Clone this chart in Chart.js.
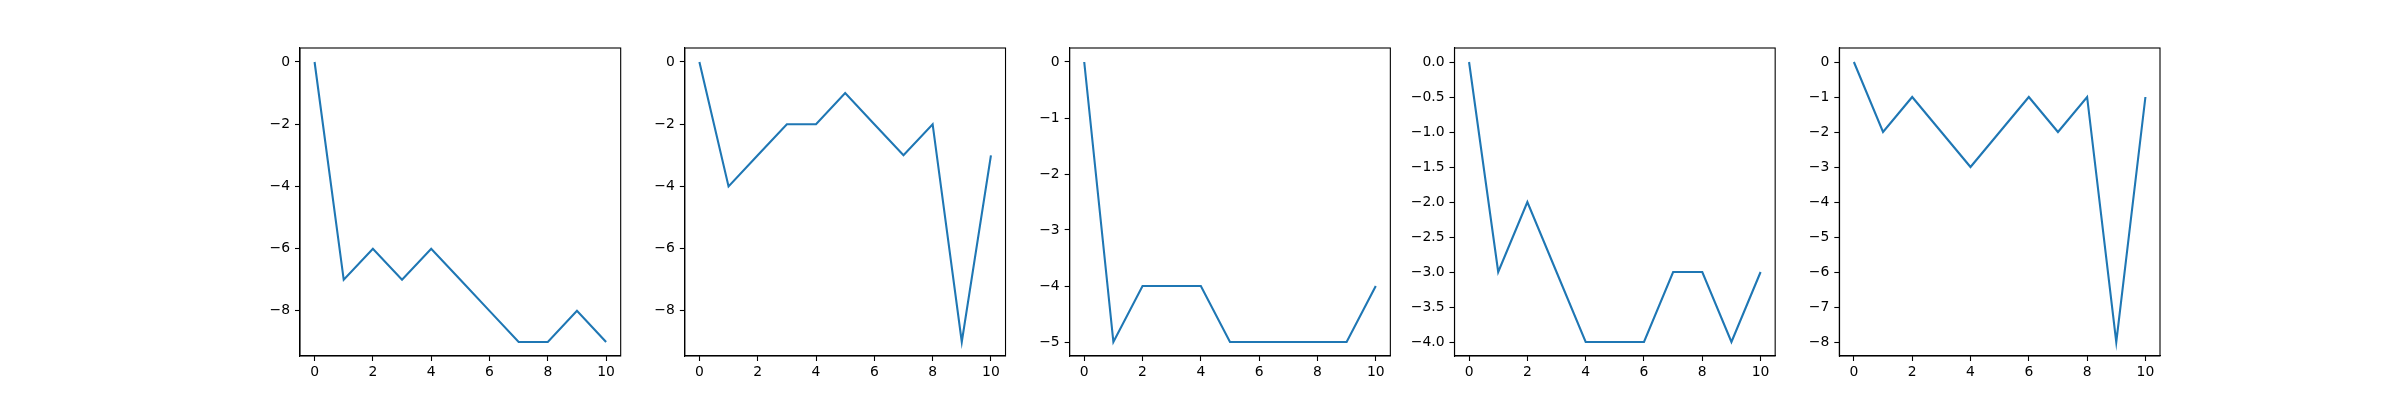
<!DOCTYPE html>
<html>
<head>
<meta charset="utf-8">
<script src="https://cdn.jsdelivr.net/npm/chart.js@4/dist/chart.umd.min.js"></script>
<style>
html,body{margin:0;padding:0;background:#fff;}
#wrap{position:relative;width:2400px;height:400px;}
#wrap canvas{position:absolute;left:0;top:0;}
</style>
</head>
<body>
<div id="wrap"></div>
<script>
const xs = [0,1,2,3,4,5,6,7,8,9,10];
const series1 = [0,-7,-6,-7,-6,-7,-8,-9,-9,-8,-9];
const series2 = [0,-4,-3,-2,-2,-1,-2,-3,-2,-9,-3];
const series3 = [0,-5,-4,-4,-4,-5,-5,-5,-5,-5,-4];
const series4 = [0,-3,-2,-3,-4,-4,-4,-3,-3,-4,-3];
const series5 = [0,-2,-1,-2,-3,-2,-1,-2,-1,-8,-1];
const xTicks = [0,2,4,6,8,10];
const yTicks1 = [0,-2,-4,-6,-8];
const yTicks2 = [0,-2,-4,-6,-8];
const yTicks3 = [0,-1,-2,-3,-4,-5];
const yTicks4 = [0,-0.5,-1,-1.5,-2,-2.5,-3,-3.5,-4];
const yTicks5 = [0,-1,-2,-3,-4,-5,-6,-7,-8];

const panels = [
  {data: series1, yt: yTicks1, dec: 0},
  {data: series2, yt: yTicks2, dec: 0},
  {data: series3, yt: yTicks3, dec: 0},
  {data: series4, yt: yTicks4, dec: 1},
  {data: series5, yt: yTicks5, dec: 0},
];

const W = 2400, H = 400;
const figL = 0.125*W, figR = 0.9*W, areaTop = 0.12*H, areaBottom = 0.89*H;
const pw = (figR - figL)/5.8, gap = 0.2*pw;
const YW = 70, XH = 30;

function fmt(v, dec){
  const s = Math.abs(v).toFixed(dec);
  return (v < 0 ? '\u2212' : '') + s;
}

const boxPlugin = {
  id: 'box',
  afterDatasetsDraw(chart){
    const a = chart.chartArea, c = chart.ctx;
    c.save();
    c.strokeStyle = '#000';
    c.lineWidth = 1.1;
    c.strokeRect(a.left, a.top, a.right - a.left, a.bottom - a.top);
    c.restore();
  }
};

const font = {family: 'DejaVu Sans', size: 13.9};
const wrap = document.getElementById('wrap');

panels.forEach((p, i) => {
  const pl = figL + i*(pw + gap);
  const pr = pl + pw;
  const cv = document.createElement('canvas');
  cv.width = W; cv.height = H;
  cv.style.width = W + 'px'; cv.style.height = H + 'px';
  wrap.appendChild(cv);
  const mn = Math.min(...p.data), mx = Math.max(...p.data);
  const m = (mx - mn)*0.05;
  new Chart(cv, {
    type: 'line',
    data: {
      datasets: [{
        data: xs.map((x, k) => ({x: x, y: p.data[k]})),
        borderColor: '#1f77b4',
        borderWidth: 2.1,
        pointRadius: 0,
        tension: 0,
        fill: false
      }]
    },
    options: {
      responsive: false,
      animation: false,
      devicePixelRatio: 1,
      plugins: {legend: {display: false}, tooltip: {enabled: false}},
      layout: {padding: {left: pl - YW, right: W - pr, top: areaTop, bottom: H - areaBottom - XH}},
      scales: {
        x: {
          type: 'linear', min: -0.5, max: 10.5,
          afterBuildTicks: s => { s.ticks = xTicks.map(v => ({value: v})); },
          afterFit: s => { s.height = XH; },
          grid: {display: true, drawOnChartArea: false, drawTicks: true, tickLength: 5, tickColor: '#000', tickWidth: 1.1},
          border: {display: true, color: '#000', width: 1.1},
          ticks: {color: '#000', font: font, padding: 3, maxRotation: 0, autoSkip: false, callback: v => fmt(v, 0)}
        },
        y: {
          type: 'linear', min: mn - m, max: mx + m,
          afterBuildTicks: s => { s.ticks = p.yt.map(v => ({value: v})); },
          afterFit: s => { s.width = YW; },
          grid: {display: true, drawOnChartArea: false, drawTicks: true, tickLength: 5, tickColor: '#000', tickWidth: 1.1},
          border: {display: true, color: '#000', width: 1.1},
          ticks: {color: '#000', font: font, padding: 5, autoSkip: false, callback: v => fmt(v, p.dec)}
        }
      }
    },
    plugins: [boxPlugin]
  });
});
</script>
</body>
</html>
